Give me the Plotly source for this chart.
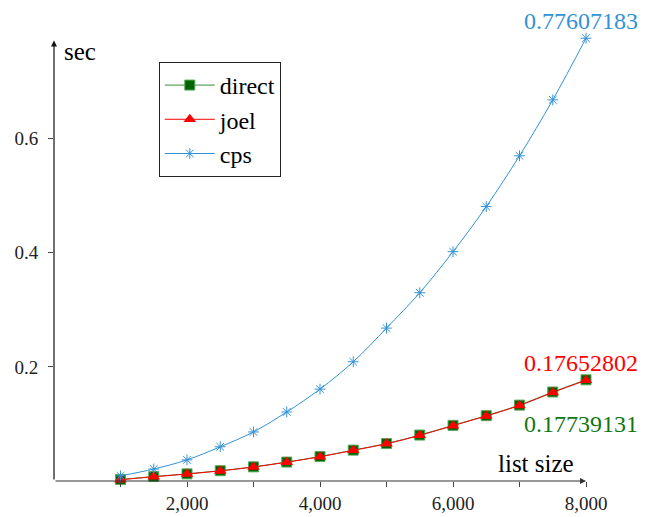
import plotly.graph_objects as go

list_size = [1000, 1500, 2000, 2500, 3000, 3500, 4000, 4500, 5000, 5500, 6000, 6500, 7000, 7500, 8000]
direct = [0.0025, 0.0078, 0.0125, 0.0180, 0.0248, 0.0332, 0.0428, 0.0541, 0.0656, 0.0805, 0.0975, 0.1145, 0.1330, 0.1560, 0.17739131]
joel = [0.0022, 0.0075, 0.0122, 0.0177, 0.0245, 0.0330, 0.0425, 0.0538, 0.0652, 0.0800, 0.0970, 0.1140, 0.1323, 0.1552, 0.17652802]
cps = [0.009, 0.021, 0.037, 0.060, 0.086, 0.121, 0.161, 0.209, 0.268, 0.330, 0.402, 0.481, 0.570, 0.668, 0.77607183]

x_tickvals = [1000, 2000, 3000, 4000, 5000, 6000, 7000, 8000]
x_ticktext = ["", "2,000", "", "4,000", "", "6,000", "", "8,000"]
y_tickvals = [0.2, 0.4, 0.6]
y_ticktext = ["0.2", "0.4", "0.6"]
end_labels = ["0.77607183", "0.17652802", "0.17739131"]

GREEN = "#006400"
GREEN_LINE = "#3a8f3a"
RED = "#ff0000"
BLUE = "#3391d6"
FONT = "Liberation Serif, DejaVu Serif"

fig = go.Figure()
fig.add_trace(go.Scatter(
    x=list_size, y=direct, name="direct", mode="lines+markers",
    line=dict(color=GREEN_LINE, width=1, shape="spline"),
    marker=dict(symbol="square", size=10, color=GREEN, line=dict(color="#5aa65a", width=1)),
    cliponaxis=False))
fig.add_trace(go.Scatter(
    x=list_size, y=joel, name="joel", mode="lines+markers",
    line=dict(color=RED, width=1, shape="spline"),
    marker=dict(symbol="triangle-up", size=11, color=RED),
    cliponaxis=False))
fig.add_trace(go.Scatter(
    x=list_size, y=cps, name="cps", mode="lines+markers",
    line=dict(color=BLUE, width=1, shape="spline"),
    marker=dict(symbol="asterisk-open", size=9, color=BLUE, line=dict(color=BLUE, width=1)),
    cliponaxis=False))

axis_common = dict(showgrid=False, zeroline=False, showline=False, tickcolor="#444",
                   automargin=False,
                   tickfont=dict(family=FONT, size=19, color="#222"))

# page body has an 8px default margin, so the figure is drawn at (8, 8)
fig.update_layout(
    width=643, height=509,
    font=dict(family=FONT),
    margin=dict(l=46, r=65, t=28, b=36),
    plot_bgcolor="white", paper_bgcolor="white",
    showlegend=True,
    legend=dict(x=0.197, y=0.9416, xanchor="left", yanchor="top",
                bordercolor="#222", borderwidth=1, bgcolor="white",
                font=dict(family=FONT, size=24, color="black"),
                itemwidth=50),
    xaxis=dict(range=[0, 8000], tickvals=x_tickvals, ticktext=x_ticktext,
               ticks="outside", ticklen=5, **axis_common),
    yaxis=dict(range=[0, 0.78], tickvals=y_tickvals, ticktext=y_ticktext,
               ticks="outside", ticklen=5, ticklabelstandoff=6, **axis_common),
    xaxis2=dict(overlaying="x", matches="x", tickvals=x_tickvals, ticks="inside",
                ticklen=5, showticklabels=False, showgrid=False, zeroline=False,
                tickcolor="#444", side="bottom"),
    yaxis2=dict(overlaying="y", matches="y", tickvals=y_tickvals, ticks="inside",
                ticklen=5, showticklabels=False, showgrid=False, zeroline=False,
                tickcolor="#444", side="left"),
)

annotations = [
    dict(x=8000, y=0, ax=0, ay=0, xref="x", yref="y", axref="x", ayref="y",
         showarrow=True, arrowhead=2, arrowsize=1, arrowwidth=1.2, arrowcolor="#333", text=""),
    dict(x=0, y=0.772, ax=0, ay=0, xref="x", yref="y", axref="x", ayref="y",
         showarrow=True, arrowhead=2, arrowsize=1, arrowwidth=1.2, arrowcolor="#111", text=""),
    dict(x=0, y=0.77, xref="x", yref="y", text="sec", showarrow=False,
         xanchor="left", yanchor="middle", xshift=8, yshift=-10,
         font=dict(family=FONT, size=25, color="black")),
    dict(x=8000, y=0, xref="x", yref="y", text="list size", showarrow=False,
         xanchor="right", yanchor="middle", xshift=-10, yshift=18,
         font=dict(family=FONT, size=25, color="black")),
    dict(x=list_size[-1], y=cps[-1], xref="x", yref="y", text=end_labels[0],
         showarrow=False, xanchor="center", yanchor="middle", yshift=17, xshift=-5,
         font=dict(family=FONT, size=24, color=BLUE)),
    dict(x=list_size[-1], y=joel[-1], xref="x", yref="y", text=end_labels[1],
         showarrow=False, xanchor="center", yanchor="middle", yshift=17, xshift=-5,
         font=dict(family=FONT, size=24, color=RED)),
    dict(x=list_size[-1], y=direct[-1], xref="x", yref="y", text=end_labels[2],
         showarrow=False, xanchor="center", yanchor="middle", yshift=-44, xshift=-5,
         font=dict(family=FONT, size=24, color="#117711")),
]
fig.update_layout(annotations=annotations)

fig.write_html("out.html")
